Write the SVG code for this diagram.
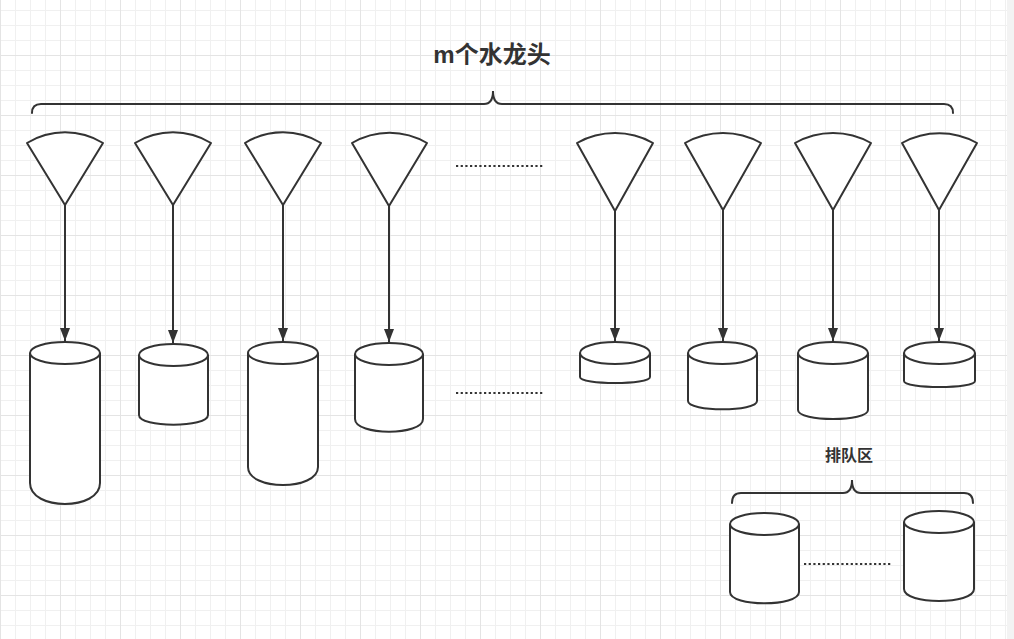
<svg xmlns="http://www.w3.org/2000/svg" width="1014" height="639" viewBox="0 0 1014 639">
<style>
.shape{fill:#ffffff;stroke:#333333;stroke-width:2;stroke-linejoin:round}
.inner{fill:none;stroke:#333333;stroke-width:2}
.edge{fill:none;stroke:#333333;stroke-width:2}
.brace{fill:none;stroke:#333333;stroke-width:2;stroke-linecap:round}
.dots{fill:none;stroke:#333333;stroke-width:2.2;stroke-dasharray:2.2 2.47}
.title{font-family:"Liberation Sans","Noto Sans CJK SC",sans-serif;font-weight:bold;fill:#333333}
</style>
<defs>
<pattern id="grid" width="60" height="60" x="0" y="-5" patternUnits="userSpaceOnUse">
<path d="M15.5,0V60M30.5,0V60M45.5,0V60M0,15.5H60M0,30.5H60M0,45.5H60" stroke="#f0f0f0" stroke-width="1" fill="none"/>
<path d="M0.5,0V60M0,0.5H60" stroke="#e4e4e4" stroke-width="1" fill="none"/>
</pattern>
<marker id="arrow" markerWidth="14" markerHeight="12" viewBox="0 0 14 12" refX="13" refY="5" orient="auto" markerUnits="userSpaceOnUse">
<path d="M0,0 L13,5 L0,10 Z" fill="#333333"/>
</marker>
</defs>
<rect width="1014" height="639" fill="#ffffff"/>
<rect width="1014" height="639" fill="url(#grid)"/>
<rect x="1007" y="0" width="7" height="639" fill="#f3f3f3"/>

<g id="title"><text class="title" x="492" y="63" font-size="24" text-anchor="middle">m个水龙头</text></g>
<g id="brace-top"><path class="brace" d="M32,113 Q32,104 41,104 L484,104 Q493,104 493,91 Q493,104 502,104 L944,104 Q953,104 953,113"/></g>

<g id="tap1"><path class="shape" d="M65,205 L27,143 A72.7,72.7 0 0 1 103,143 Z"/></g>
<g id="tap2"><path class="shape" d="M173,205 L135,143 A72.7,72.7 0 0 1 211,143 Z"/></g>
<g id="tap3"><path class="shape" d="M283,205 L245,143 A72.7,72.7 0 0 1 321,143 Z"/></g>
<g id="tap4"><path class="shape" d="M389,206 L352,143 A73,73 0 0 1 427,143 Z"/></g>
<g id="tap5"><path class="shape" d="M615,211 L577,143 A77.9,77.9 0 0 1 653,143 Z"/></g>
<g id="tap6"><path class="shape" d="M723,210 L685,143 A77,77 0 0 1 761,143 Z"/></g>
<g id="tap7"><path class="shape" d="M833,210 L795,143 A77,77 0 0 1 871,143 Z"/></g>
<g id="tap8"><path class="shape" d="M939,210 L902,143 A77,77 0 0 1 977,143 Z"/></g>

<g id="dots-top"><line class="dots" x1="456" y1="166" x2="543" y2="166"/></g>

<g id="bucket1"><path class="shape" d="M30,353 A35,11 0 0 1 100,353 L100,483 C100,511 30,511 30,483 Z"/><path class="inner" d="M30,353 A35,11 0 0 0 100,353"/></g>
<g id="bucket2"><path class="shape" d="M139,355 A34.5,11 0 0 1 208,355 L208,415 C208,428 139,428 139,415 Z"/><path class="inner" d="M139,355 A34.5,11 0 0 0 208,355"/></g>
<g id="bucket3"><path class="shape" d="M248,353 A35,11 0 0 1 318,353 L318,467 C318,491 248,491 248,467 Z"/><path class="inner" d="M248,353 A35,11 0 0 0 318,353"/></g>
<g id="bucket4"><path class="shape" d="M355,354 A34,11 0 0 1 423,354 L423,419 C423,436 355,436 355,419 Z"/><path class="inner" d="M355,354 A34,11 0 0 0 423,354"/></g>
<g id="bucket5"><path class="shape" d="M580,353 A35,11 0 0 1 650,353 L650,377 C650,385 580,385 580,377 Z"/><path class="inner" d="M580,353 A35,11 0 0 0 650,353"/></g>
<g id="bucket6"><path class="shape" d="M688,353 A34.5,11 0 0 1 757,353 L757,401 C757,412 688,412 688,401 Z"/><path class="inner" d="M688,353 A34.5,11 0 0 0 757,353"/></g>
<g id="bucket7"><path class="shape" d="M798,353 A35,11 0 0 1 868,353 L868,410 C868,422 798,422 798,410 Z"/><path class="inner" d="M798,353 A35,11 0 0 0 868,353"/></g>
<g id="bucket8"><path class="shape" d="M904,353 A35.5,11 0 0 1 975,353 L975,381 C975,389 904,389 904,381 Z"/><path class="inner" d="M904,353 A35.5,11 0 0 0 975,353"/></g>

<g id="dots-mid"><line class="dots" x1="456" y1="393" x2="543" y2="393"/></g>

<g id="connectors">
<line class="edge" x1="65" y1="205" x2="65" y2="341" marker-end="url(#arrow)"/>
<line class="edge" x1="173" y1="205" x2="173" y2="343" marker-end="url(#arrow)"/>
<line class="edge" x1="283" y1="205" x2="283" y2="341" marker-end="url(#arrow)"/>
<line class="edge" x1="389" y1="206" x2="389" y2="342" marker-end="url(#arrow)"/>
<line class="edge" x1="615" y1="211" x2="615" y2="341" marker-end="url(#arrow)"/>
<line class="edge" x1="723" y1="210" x2="723" y2="341" marker-end="url(#arrow)"/>
<line class="edge" x1="833" y1="210" x2="833" y2="341" marker-end="url(#arrow)"/>
<line class="edge" x1="939" y1="210" x2="939" y2="341" marker-end="url(#arrow)"/>
</g>

<g id="queue-label"><text class="title" x="849" y="461" font-size="16" text-anchor="middle">排队区</text></g>
<g id="brace-queue"><path class="brace" d="M732,503 Q732,493 741,493 L843,493 Q852,493 852,480 Q852,493 861,493 L964,493 Q973,493 973,503"/></g>
<g id="queue1"><path class="shape" d="M730,524 A34.5,11 0 0 1 799,524 L799,592 C799,607 730,607 730,592 Z"/><path class="inner" d="M730,524 A34.5,11 0 0 0 799,524"/></g>
<g id="queue2"><path class="shape" d="M904,522 A35,11 0 0 1 974,522 L974,589 C974,605 904,605 904,589 Z"/><path class="inner" d="M904,522 A35,11 0 0 0 974,522"/></g>
<g id="dots-queue"><line class="dots" x1="804" y1="564" x2="891" y2="564"/></g>
</svg>
